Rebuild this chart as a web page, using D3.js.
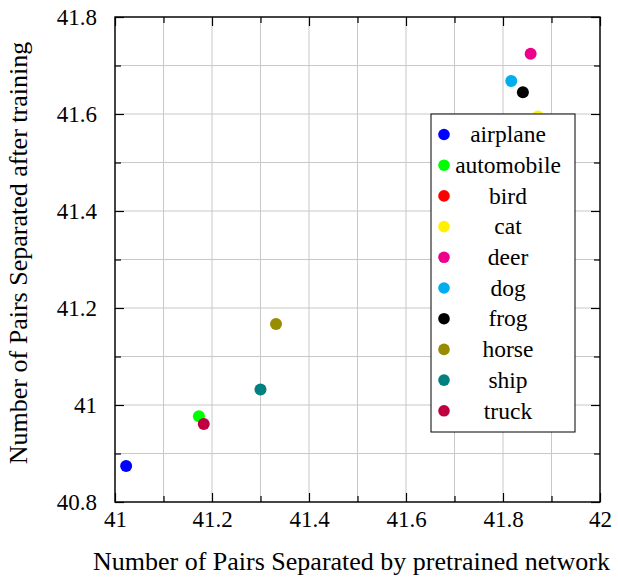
<!DOCTYPE html>
<html><head><meta charset="utf-8">
<script src="https://cdn.jsdelivr.net/npm/d3@7"></script>
</head><body style="margin:0">
<svg id="c" width="618" height="577" style="display:block"></svg>
<script>
const categories = ["airplane","automobile","bird","cat","deer","dog","frog","horse","ship","truck"];
const pretrained = [41.023, 41.173, 41.86, 41.872, 41.857, 41.817, 41.841, 41.332, 41.300, 41.183];
const afterTraining = [40.874, 40.977, 41.50, 41.595, 41.724, 41.668, 41.645, 41.167, 41.032, 40.961];
const colors = ["#0000ff","#00ff00","#ff0000","#fff100","#ec008c","#00aeef","#000000","#998c00","#008080","#bf0040"];
const xTicks = [41, 41.2, 41.4, 41.6, 41.8, 42];
const yTicks = [40.8, 41, 41.2, 41.4, 41.6, 41.8];
const xMinor = [41.1, 41.3, 41.5, 41.7, 41.9];
const yMinor = [40.9, 41.1, 41.3, 41.5, 41.7];
const xLabel = "Number of Pairs Separated by pretrained network";
const yLabel = "Number of Pairs Separated after training";

const FONT = "Liberation Serif";
const L = 115, R = 600, T = 17, B = 502;
const svg = d3.select("#c");
const x = d3.scaleLinear().domain([41, 42]).range([L, R]);
const y = d3.scaleLinear().domain([40.8, 41.8]).range([B, T]);
const fmt = d => String(+d.toFixed(1));

const g = svg.append("g");
g.selectAll(".gx").data(xTicks.concat(xMinor)).join("line")
  .attr("x1", d => x(d)).attr("x2", d => x(d)).attr("y1", T).attr("y2", B)
  .attr("stroke", "#c8c8c8").attr("stroke-width", 1);
g.selectAll(".gy").data(yTicks.concat(yMinor)).join("line")
  .attr("y1", d => y(d)).attr("y2", d => y(d)).attr("x1", L).attr("x2", R)
  .attr("stroke", "#c8c8c8").attr("stroke-width", 1);

function axisGroup(axis, tx, ty) {
  const a = svg.append("g").attr("transform", `translate(${tx},${ty})`).call(axis);
  a.select(".domain").remove();
  a.selectAll("line").attr("stroke", "#000").attr("stroke-width", 1.2);
  return a;
}
const bx = axisGroup(d3.axisBottom(x).tickValues(xTicks).tickSize(-9).tickFormat(fmt), 0, B);
bx.selectAll("text").attr("font-size", 23).attr("fill", "#000").attr("dy", "0.71em").attr("y", 9);
axisGroup(d3.axisBottom(x).tickValues(xMinor).tickSize(-6).tickFormat(""), 0, B);
axisGroup(d3.axisTop(x).tickValues(xTicks).tickSize(-9).tickFormat(""), 0, T);
axisGroup(d3.axisTop(x).tickValues(xMinor).tickSize(-6).tickFormat(""), 0, T);
const ly = axisGroup(d3.axisLeft(y).tickValues(yTicks).tickSize(-9).tickFormat(fmt), L, 0);
ly.selectAll("text").attr("font-size", 23).attr("fill", "#000").attr("x", -18);
axisGroup(d3.axisLeft(y).tickValues(yMinor).tickSize(-6).tickFormat(""), L, 0);
axisGroup(d3.axisRight(y).tickValues(yTicks).tickSize(-9).tickFormat(""), R, 0);
axisGroup(d3.axisRight(y).tickValues(yMinor).tickSize(-6).tickFormat(""), R, 0);

svg.append("rect").attr("x", L).attr("y", T).attr("width", R - L).attr("height", B - T)
  .attr("fill", "none").attr("stroke", "#000").attr("stroke-width", 1.4);

const data = categories.map((c, i) => ({c, x: pretrained[i], y: afterTraining[i], col: colors[i]}));
svg.append("g").selectAll("circle").data(data).join("circle")
  .attr("cx", d => x(d.x)).attr("cy", d => y(d.y)).attr("r", 6).attr("fill", d => d.col);

const lg = svg.append("g").attr("transform", "translate(431,114)");
lg.append("rect").attr("width", 144).attr("height", 318).attr("fill", "#fff").attr("stroke", "#000").attr("stroke-width", 1);
const it = lg.selectAll("g").data(data).join("g").attr("transform", (d, i) => `translate(0,${20.5 + i * 30.7})`);
it.append("circle").attr("cx", 13).attr("cy", 0).attr("r", 5.8).attr("fill", d => d.col);
it.append("text").attr("x", 77).attr("y", 0).attr("dy", "0.33em").attr("text-anchor", "middle")
  .attr("font-size", 23.5).text(d => d.c);

svg.append("text").attr("x", 93).attr("y", 570).attr("font-size", 26).text(xLabel);
svg.append("text").attr("transform", "translate(27,253) rotate(-90)").attr("text-anchor", "middle")
  .attr("font-size", 26).text(yLabel);

svg.selectAll("text").attr("font-family", FONT).style("font-family", FONT);
</script>
</body></html>
